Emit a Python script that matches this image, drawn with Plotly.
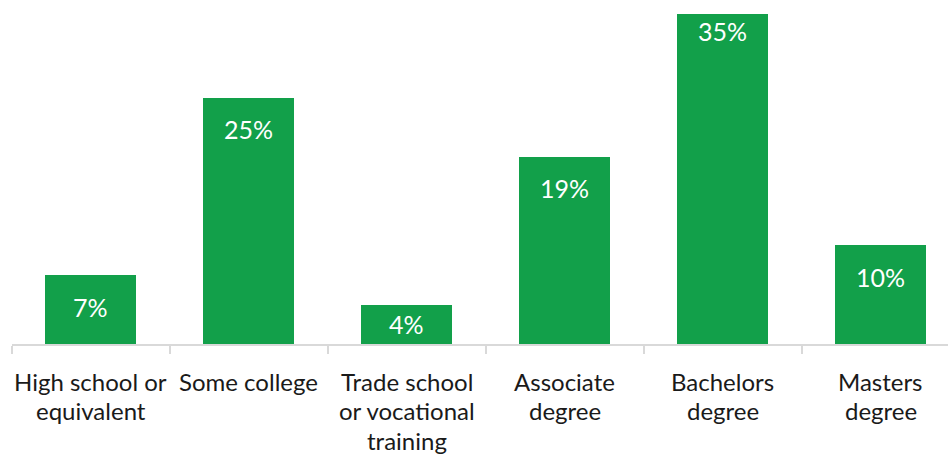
import plotly.graph_objects as go

categories = [
    "High school or<br>equivalent",
    "Some college",
    "Trade school<br>or vocational<br>training",
    "Associate<br>degree",
    "Bachelors<br>degree",
    "Masters<br>degree",
]
shares = [7, 25, 4, 19, 35, 10]
labels = [f"{v}%" for v in shares]

GREEN = "#12A04A"
FONT = "Lato"
Y_MAX = 33.5
PLOT_H = 330.5  # height of the plotting area in px (457 - top - bottom margins)

fig = go.Figure(
    go.Bar(
        x=categories,
        y=shares,
        width=0.576,
        marker=dict(color=GREEN, line=dict(width=0)),
        hoverinfo="skip",
    )
)

# value labels just inside the top end of each bar (paper coords so the
# tallest bar's label still shows when its bar runs past the top);
# short bars get their label centred instead
for cat, v, txt in zip(categories, shares, labels):
    bar_px = v / Y_MAX * PLOT_H
    fig.add_annotation(
        x=cat, xref="x", y=v / Y_MAX, yref="paper",
        text=txt, showarrow=False,
        yshift=-min(31.5, bar_px / 2), yanchor="middle",
        font=dict(family=FONT, size=25, color="white"),
    )

# category names under the axis, one annotation per line
for cat in categories:
    for i, line in enumerate(cat.split("<br>")):
        fig.add_annotation(
            x=cat, xref="x", y=0, yref="paper",
            text=line, showarrow=False,
            yshift=-37 - i * 29.5, yanchor="middle",
            font=dict(family=FONT, size=24, color="#1a1a1a"),
        )

fig.update_layout(
    width=948, height=457,
    margin=dict(l=11.5, r=0, t=14, b=112.5),
    paper_bgcolor="white", plot_bgcolor="white",
    showlegend=False,
    bargap=0,
)
fig.update_xaxes(
    type="category",
    range=[-0.5, 5.427],
    tickson="boundaries",
    ticks="outside", ticklen=8, tickwidth=2, tickcolor="#d9d9d9",
    showline=True, linecolor="#d9d9d9", linewidth=2,
    showgrid=False,
    showticklabels=False,
)
fig.update_yaxes(
    range=[0, Y_MAX],
    visible=False,
    showgrid=False,
)

fig.write_html("out.html")
